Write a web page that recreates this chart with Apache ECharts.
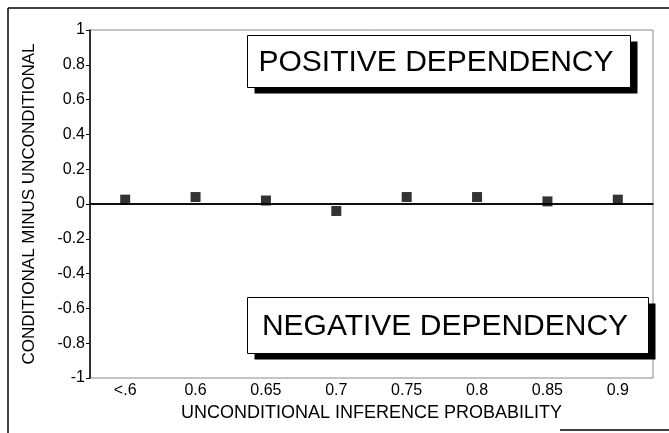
<!DOCTYPE html>
<html>
<head>
<meta charset="utf-8">
<script src="https://cdn.jsdelivr.net/npm/echarts@6/dist/echarts.min.js"></script>
<style>
  html, body { margin: 0; padding: 0; background: #fff; }
  #chart { width: 669px; height: 433px; }
</style>
</head>
<body>
<div id="chart"></div>
<script>
// values
const categories = ['<.6', '0.6', '0.65', '0.7', '0.75', '0.8', '0.85', '0.9']
const diffs = [0.025, 0.04, 0.02, -0.04, 0.04, 0.04, 0.015, 0.025]
const yTicks = { min: -1, max: 1, interval: 0.2 }

const font = '"Liberation Sans", Arial, sans-serif'

// labelled box with a drop shadow, drawn as graphic elements
function shadowBox (x, y, w, h, label) {
  return {
    type: 'group',
    left: x,
    top: y,
    children: [
      { type: 'rect', shape: { x: 7, y: 6, width: w, height: h }, style: { fill: '#000' } },
      { type: 'rect', shape: { x: 0, y: 0, width: w, height: h }, style: { fill: '#fff', stroke: '#000', lineWidth: 1 } },
      {
        type: 'text',
        x: w / 2 - 3,
        y: h / 2 + 1,
        style: { text: label, fill: '#000', font: '30px ' + font, align: 'center', verticalAlign: 'middle' }
      }
    ]
  }
}

let myChart = echarts.init(document.getElementById('chart'))
myChart.setOption({
  animation: false,
  backgroundColor: '#fff',
  grid: { left: 90, right: 16, top: 30, bottom: 55, show: true, borderColor: '#888', borderWidth: 1 },
  xAxis: {
    type: 'category',
    data: categories,
    boundaryGap: true,
    name: 'UNCONDITIONAL INFERENCE PROBABILITY',
    nameLocation: 'middle',
    nameGap: 23,
    nameTextStyle: { color: '#000', fontSize: 18, fontFamily: font },
    axisLine: { lineStyle: { color: '#000', width: 1.5 } },
    axisTick: { alignWithLabel: true, length: 4, lineStyle: { color: '#000' } },
    axisLabel: { color: '#000', fontSize: 16, fontFamily: font, margin: 5 },
    splitLine: { show: false }
  },
  yAxis: {
    type: 'value',
    min: yTicks.min,
    max: yTicks.max,
    interval: yTicks.interval,
    name: 'CONDITIONAL MINUS UNCONDITIONAL',
    nameLocation: 'middle',
    nameGap: 52,
    nameTextStyle: { color: '#000', fontSize: 17, fontFamily: font },
    axisLine: { show: true, lineStyle: { color: '#000', width: 1.5 } },
    axisTick: { show: true, length: 4, lineStyle: { color: '#000' } },
    axisLabel: { color: '#000', fontSize: 16, fontFamily: font, margin: 5 },
    splitLine: { show: false }
  },
  graphic: [
    { type: 'line', shape: { x1: 8, y1: 8, x2: 8, y2: 433 }, style: { stroke: '#000', lineWidth: 1.5 } },
    { type: 'line', shape: { x1: 8, y1: 8, x2: 669, y2: 8 }, style: { stroke: '#000', lineWidth: 1.5 } },
    { type: 'line', shape: { x1: 560, y1: 430, x2: 669, y2: 430 }, style: { stroke: '#000', lineWidth: 1.5 } },
    shadowBox(247, 35, 383, 52, 'POSITIVE DEPENDENCY'),
    shadowBox(247, 297, 401, 56, 'NEGATIVE DEPENDENCY')
  ],
  series: [{
    name: 'difference',
    type: 'scatter',
    data: diffs,
    symbol: 'rect',
    symbolSize: 10,
    itemStyle: { color: '#000' },
    z: 3,
    markLine: {
      silent: true,
      symbol: 'none',
      label: { show: false },
      lineStyle: { color: '#000', type: 'solid', width: 1.5 },
      data: [{ yAxis: 0 }]
    }
  }]
})
</script>
</body>
</html>
